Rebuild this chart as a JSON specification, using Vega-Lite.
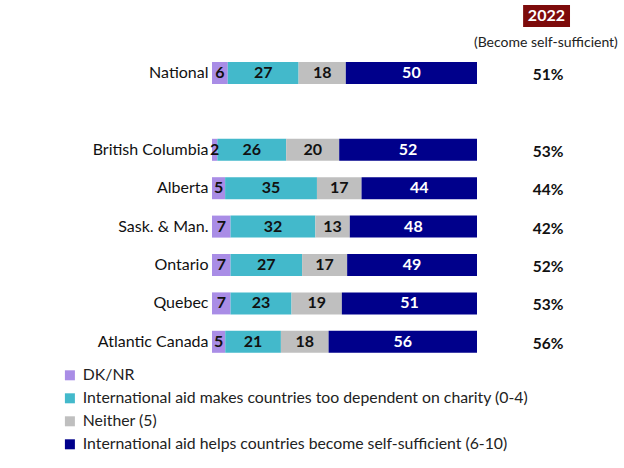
{
  "$schema": "https://vega.github.io/schema/vega-lite/v6.json",
  "width": 265,
  "height": 345.6,
  "autosize": "none",
  "padding": {"left": 212, "top": 15.4, "right": 147, "bottom": 107},
  "config": {"view": {"stroke": null}, "font": "Lato"},
  "datasets": {
    "bars": [
      {"region": "National", "cat": "DK/NR", "k": 1, "value": 6},
      {"region": "National", "cat": "International aid makes countries too dependent on charity (0-4)", "k": 2, "value": 27},
      {"region": "National", "cat": "Neither (5)", "k": 3, "value": 18},
      {"region": "National", "cat": "International aid helps countries become self-sufficient (6-10)", "k": 4, "value": 50},
      {"region": "British Columbia", "cat": "DK/NR", "k": 1, "value": 2},
      {"region": "British Columbia", "cat": "International aid makes countries too dependent on charity (0-4)", "k": 2, "value": 26},
      {"region": "British Columbia", "cat": "Neither (5)", "k": 3, "value": 20},
      {"region": "British Columbia", "cat": "International aid helps countries become self-sufficient (6-10)", "k": 4, "value": 52},
      {"region": "Alberta", "cat": "DK/NR", "k": 1, "value": 5},
      {"region": "Alberta", "cat": "International aid makes countries too dependent on charity (0-4)", "k": 2, "value": 35},
      {"region": "Alberta", "cat": "Neither (5)", "k": 3, "value": 17},
      {"region": "Alberta", "cat": "International aid helps countries become self-sufficient (6-10)", "k": 4, "value": 44},
      {"region": "Sask. & Man.", "cat": "DK/NR", "k": 1, "value": 7},
      {"region": "Sask. & Man.", "cat": "International aid makes countries too dependent on charity (0-4)", "k": 2, "value": 32},
      {"region": "Sask. & Man.", "cat": "Neither (5)", "k": 3, "value": 13},
      {"region": "Sask. & Man.", "cat": "International aid helps countries become self-sufficient (6-10)", "k": 4, "value": 48},
      {"region": "Ontario", "cat": "DK/NR", "k": 1, "value": 7},
      {"region": "Ontario", "cat": "International aid makes countries too dependent on charity (0-4)", "k": 2, "value": 27},
      {"region": "Ontario", "cat": "Neither (5)", "k": 3, "value": 17},
      {"region": "Ontario", "cat": "International aid helps countries become self-sufficient (6-10)", "k": 4, "value": 49},
      {"region": "Quebec", "cat": "DK/NR", "k": 1, "value": 7},
      {"region": "Quebec", "cat": "International aid makes countries too dependent on charity (0-4)", "k": 2, "value": 23},
      {"region": "Quebec", "cat": "Neither (5)", "k": 3, "value": 19},
      {"region": "Quebec", "cat": "International aid helps countries become self-sufficient (6-10)", "k": 4, "value": 51},
      {"region": "Atlantic Canada", "cat": "DK/NR", "k": 1, "value": 5},
      {"region": "Atlantic Canada", "cat": "International aid makes countries too dependent on charity (0-4)", "k": 2, "value": 21},
      {"region": "Atlantic Canada", "cat": "Neither (5)", "k": 3, "value": 18},
      {"region": "Atlantic Canada", "cat": "International aid helps countries become self-sufficient (6-10)", "k": 4, "value": 56}
    ],
    "pct": [
      {"region": "National", "self": 0.51},
      {"region": "British Columbia", "self": 0.53},
      {"region": "Alberta", "self": 0.44},
      {"region": "Sask. & Man.", "self": 0.42},
      {"region": "Ontario", "self": 0.52},
      {"region": "Quebec", "self": 0.53},
      {"region": "Atlantic Canada", "self": 0.56}
    ]
  },
  "layer": [
    {
      "data": {"name": "bars"},
      "mark": {"type": "bar"},
      "encoding": {
        "x": {"field": "value", "type": "quantitative", "stack": "normalize", "scale": {"domain": [0, 1]}, "axis": null},
        "y": {
          "field": "region", "type": "nominal",
          "scale": {"domain": ["hdr", "National", "gap", "British Columbia", "Alberta", "Sask. & Man.", "Ontario", "Quebec", "Atlantic Canada"], "paddingInner": 0.427, "paddingOuter": 0.2135},
          "axis": {"title": null, "ticks": false, "domain": false, "labelFontSize": 16, "labelColor": "#111111", "labelPadding": 4, "labelExpr": "datum.value == 'hdr' || datum.value == 'gap' ? '' : datum.value", "labelLimit": 0}
        },
        "color": {
          "field": "cat", "type": "nominal",
          "sort": ["DK/NR", "International aid makes countries too dependent on charity (0-4)", "Neither (5)", "International aid helps countries become self-sufficient (6-10)"],
          "scale": {"domain": ["DK/NR", "International aid makes countries too dependent on charity (0-4)", "Neither (5)", "International aid helps countries become self-sufficient (6-10)"], "range": ["#a98de6", "#43b9cb", "#bfbfbf", "#00008b"]},
          "legend": {"orient": "none", "legendX": -150, "legendY": 352, "title": null, "symbolType": "square", "symbolSize": 100, "symbolStrokeWidth": 0, "labelFontSize": 15.8, "labelColor": "#222222", "labelLimit": 0, "rowPadding": 6, "padding": 0, "labelOffset": 5}
        },
        "order": {"field": "k", "type": "quantitative"}
      }
    },
    {
      "data": {"name": "bars"},
      "mark": {"type": "text", "fontWeight": "bold", "fontSize": 16},
      "encoding": {
        "x": {"field": "value", "type": "quantitative", "stack": "normalize", "bandPosition": 0.5},
        "y": {"field": "region", "type": "nominal"},
        "detail": {"field": "cat", "type": "nominal"},
        "order": {"field": "k", "type": "quantitative"},
        "text": {"field": "value", "type": "quantitative"},
        "color": {"condition": {"test": "datum.k == 4", "value": "white"}, "value": "#111111"}
      }
    },
    {
      "data": {"name": "pct"},
      "mark": {"type": "text", "fontWeight": "bold", "fontSize": 15.5, "color": "#111111", "dy": 2},
      "encoding": {
        "x": {"datum": 1.268},
        "y": {"field": "region", "type": "nominal"},
        "text": {"field": "self", "type": "quantitative", "format": ".0%"}
      }
    },
    {
      "data": {"values": [{}]},
      "mark": {"type": "rect", "color": "#7d0b0b", "yOffset": -18.6},
      "encoding": {
        "x": {"datum": 1.174},
        "x2": {"datum": 1.351},
        "y": {"datum": "hdr"}
      }
    },
    {
      "data": {"values": [{}]},
      "mark": {"type": "text", "fontWeight": "bold", "fontSize": 16, "color": "white", "dy": -18.6, "text": "2022"},
      "encoding": {
        "x": {"datum": 1.262},
        "y": {"datum": "hdr"}
      }
    },
    {
      "data": {"values": [{}]},
      "mark": {"type": "text", "fontSize": 14, "color": "#222222", "dy": 8.4, "text": "(Become self-sufficient)"},
      "encoding": {
        "x": {"datum": 1.26},
        "y": {"datum": "hdr"}
      }
    }
  ]
}
